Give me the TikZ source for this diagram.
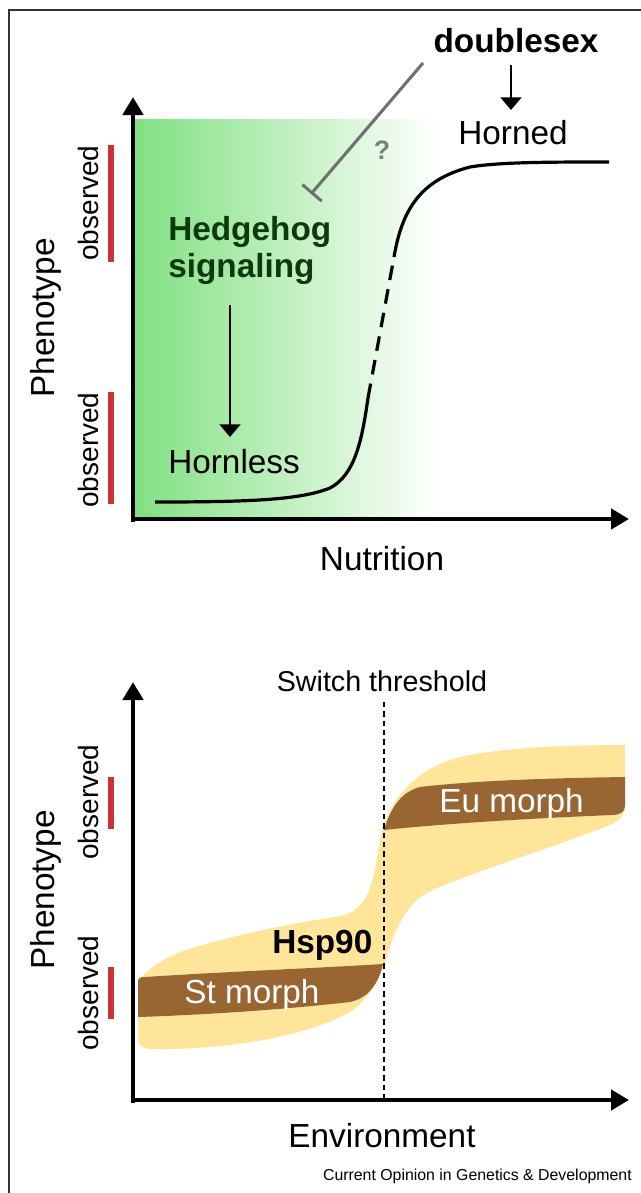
\documentclass[tikz,border=0pt]{standalone}
\usepackage{fontspec}
\setmainfont{Liberation Sans}
\usetikzlibrary{arrows.meta}
\definecolor{hhgreen}{RGB}{128,224,128}
\definecolor{hhdark}{RGB}{12,58,12}
\definecolor{obsred}{RGB}{204,51,51}
\definecolor{band}{RGB}{255,229,154}
\definecolor{morph}{RGB}{153,102,51}
\definecolor{inhib}{RGB}{112,112,112}
\tikzset{
  axis/.style={line width=3.6pt,-{Triangle[length=13.5pt,width=15pt]}},
  lbl/.style={font=\fontsize{25}{30}\selectfont,inner sep=0pt},
  blbl/.style={font=\fontsize{25}{30}\selectfont\bfseries,inner sep=0pt},
  obs/.style={font=\fontsize{21}{25}\selectfont,inner sep=0pt,rotate=90,anchor=base},
  ylbl/.style={font=\fontsize{25}{30}\selectfont,inner sep=0pt,rotate=90,anchor=base},
  redbar/.style={obsred,line width=5.2pt},
  curve/.style={line width=2.4pt},
  smallarrow/.style={line width=2.2pt,-{Triangle[length=9.5pt,width=15.5pt]}},
}
\begin{document}
\begin{tikzpicture}[x=0.75pt,y=-0.75pt]
\useasboundingbox (0,0) rectangle (641,1193);
% frame
\draw[line width=0.8pt,black!80] (9,1193) -- (9,10) -- (641,10);

% ===== top panel =====
\shade[left color=hhgreen,right color=white] (133,119) rectangle (438,519);
\coordinate (o1) at (133,519);
\coordinate (ytip1) at (133,97);
\coordinate (xtip1) at (629,519);
\draw[axis] ([yshift=-2.5pt]o1) -- (ytip1);
\draw[axis] ([xshift=-1.8pt]o1) -- (xtip1);

\draw[redbar] (111,145) -- (111,262);
\draw[redbar] (111,392) -- (111,504);
\node[obs] (obs1) at (98,203) {observed};
\node[obs] (obs2) at (98,450) {observed};
\node[ylbl] (ph1) at (55,318) {Phenotype};

% response curve
\draw[curve] (155,502) .. controls (250,502) and (300,500) .. (330,488)
  .. controls (355,475) and (362,440) .. (368,398);
\draw[curve,dash pattern=on 11pt off 7pt] (368,398) -- (394,257);
\draw[curve] (394,257) .. controls (402,210) and (420,180) .. (470,167)
  .. controls (500,162) and (550,162) .. (609,162);

\node[blbl,anchor=base] (dsx) at (516,52) {doublesex};
\node[lbl,anchor=base] (horned) at (513,144) {Horned};
\draw[smallarrow] (511,65) -- (511,110);

\coordinate (inhs) at (423,63);
\coordinate (inhe) at (311,194);
\draw[inhib,line width=2.3pt,-{Bar[width=19pt,line width=2.3pt]}] (inhs) -- (inhe);
\node[font=\fontsize{20}{24}\selectfont\bfseries,text=inhib!90,inner sep=0pt,anchor=base] (q) at (382,159) {?};

\node[blbl,text=hhdark,anchor=base west] (hh1) at (168,240) {Hedgehog};
\node[blbl,text=hhdark,anchor=base west] (hh2) at (168,277) {signaling};
\node[lbl,anchor=base west] (hornless) at (168,473) {Hornless};
\coordinate (hha) at (230,305);
\draw[smallarrow] (hha) -- (230,437);
\node[lbl,anchor=base] (nutr) at (382,570) {Nutrition};

% ===== bottom panel =====
% yellow band
\fill[band] (138,985) .. controls (138,978) and (150,965) .. (180,952)
  .. controls (230,935) and (300,922) .. (335,917)
  .. controls (365,912) and (372,895) .. (380,840)
  .. controls (387,805) and (410,770) .. (460,757)
  .. controls (500,748) and (560,745) .. (625,745)
  -- (625,805) .. controls (625,815) and (620,820) .. (610,825)
  .. controls (560,845) and (480,870) .. (445,885)
  .. controls (415,895) and (405,910) .. (392,940)
  .. controls (385,965) and (375,995) .. (350,1012)
  .. controls (310,1035) and (230,1050) .. (155,1049)
  .. controls (145,1049) and (138,1047) .. (138,1040) -- cycle;
% St morph
\fill[morph] (138,982) .. controls (138,978) and (140,977) .. (145,977)
  .. controls (220,972) and (320,968) .. (383,964)
  .. controls (378,985) and (368,998) .. (350,1002)
  .. controls (280,1010) and (200,1015) .. (138,1017) -- cycle;
% Eu morph
\fill[morph] (384,830) .. controls (390,810) and (400,792) .. (420,787)
  .. controls (480,780) and (560,778) .. (625,777)
  -- (625,806) .. controls (625,812) and (620,815) .. (612,815)
  .. controls (540,818) and (450,823) .. (384,830) -- cycle;

\coordinate (o2) at (133,1100);
\coordinate (ytip2) at (133,682);
\coordinate (xtip2) at (629,1100);
\draw[axis] ([yshift=-2.5pt]o2) -- (ytip2);
\draw[axis] ([xshift=-1.8pt]o2) -- (xtip2);

\node[font=\fontsize{21.5}{26}\selectfont,inner sep=0pt,anchor=base] (sw) at (382,691) {Switch threshold};
\coordinate (thr) at (384,1098);
\draw[line width=1.1pt,dash pattern=on 4pt off 3pt] (384,702) -- (thr);

\draw[redbar] (111,777) -- (111,829);
\draw[redbar] (111,967) -- (111,1019);
\node[obs] (obs3) at (98,802) {observed};
\node[obs] (obs4) at (98,993) {observed};
\node[ylbl] (ph2) at (55,890) {Phenotype};

\node[lbl,text=white,anchor=base west] (eu) at (439,812) {Eu morph};
\node[lbl,text=white,anchor=base west] (st) at (184,1003) {St morph};
\node[blbl,anchor=base west] (hsp) at (272,953) {Hsp90};
\node[lbl,anchor=base] (env) at (382,1147) {Environment};
\node[font=\fontsize{11.9}{14}\selectfont,inner sep=0pt,anchor=base east] (cred) at (632,1180) {Current Opinion in Genetics \& Development};
\end{tikzpicture}
\end{document}
